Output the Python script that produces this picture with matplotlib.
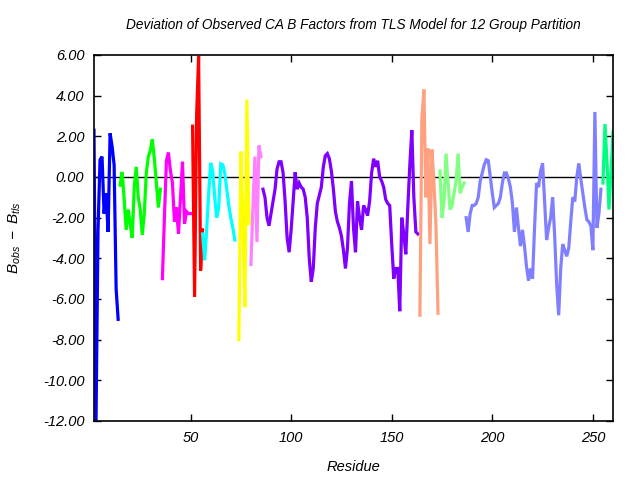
import matplotlib
matplotlib.use("Agg")
import matplotlib.pyplot as plt
import numpy as np

# ---- data: (start residue, values, colour) per TLS group ----
blue_start = 2
blue_vals = [2.3, -12.0, -2.6, 0.85, 1.0, -1.8, -0.8, -2.7, 2.15, 1.5, 0.6, -5.5, -7.0]

green_start = 15
green_vals = [-0.4, 0.25, -1.1, -2.6, -1.6, -2.3, -3.0, -0.5, 0.5, -1.0, -1.6, -2.85,
              -1.8, 0.2, 1.0, 1.3, 1.85, 0.9, -0.3, -1.5, -0.6]

magenta_start = 36
magenta_vals = [-5.0, -2.0, 0.8, 1.2, 0.3, -0.3, -2.2, -1.5, -2.8, -1.0, 0.75, -2.3,
                -1.7, -1.8, -1.8]

red_start = 51
red_vals = [2.5, -5.9, 3.0, 5.95, -4.6, -2.6]

cyan_start = 56
cyan_vals = [-2.8, -4.1, -2.6, -0.8, 0.7, 0.3, -1.0, -2.0, -1.5, 0.65, 0.6, 0.2, -0.6,
             -1.4, -2.0, -2.5, -3.1]

yellow_start = 74
yellow_vals = [-8.0, 1.25, -2.0, -6.4, 3.8, -2.3]

pink_start = 80
pink_vals = [-4.3, -1.5, 1.0, -3.2, 1.55, 1.0]

purple_start = 86
purple_vals = [-0.6, -1.0, -2.0, -2.4, -1.8, -1.2, -0.6, 0.4, 0.75, 0.75, 0.2, -1.2,
               -3.0, -3.7, -2.6, -1.2, 0.23, -0.6, -0.3, -0.5, -0.6, -1.0, -2.0, -4.0,
               -5.15, -4.5, -2.5, -1.3, -0.9, -0.5, 0.5, 1.05, 1.15, 0.9, 0.3, -0.6,
               -1.7, -2.2, -2.5, -2.9, -3.6, -4.5, -3.5, -1.3, -0.2, -2.5, -3.7, -1.2,
               -2.0, -2.6, -1.4, -1.6, -1.9, -1.2, 0.2, 0.9, 0.5, 0.8, 0.0, -0.2,
               -0.5, -1.1, -1.3, -1.4, -3.3, -5.0, -4.5, -4.5, -6.6, -2.0, -2.8, -3.8,
               -1.5, 0.6, 2.3, -1.0, -2.7, -2.8]

salmon_start = 164
salmon_vals = [-6.8, 2.9, 4.3, -1.0, 1.4, -3.3, 1.35, -0.3, -2.4, -6.7]

lgreen_start = 174
lgreen_vals = [0.3, -2.0, -1.2, 1.15, -0.3, -1.6, -1.4, -0.8, -0.2, 1.15, -0.8, -0.5, -0.3]

lblue_start = 187
lblue_vals = [-2.0, -2.7, -1.8, -1.4, -1.4, -1.3, -1.0, -0.2, 0.2, 0.6, 0.85, 0.8,
              0.0, -0.8, -1.5, -1.4, -1.3, -1.0, -0.3, 0.2, 0.2, -0.1, -0.5, -1.3,
              -2.7, -1.5, -2.5, -3.4, -2.6, -3.4, -4.4, -5.1, -4.5, -5.0, -2.5, -0.3,
              -0.5, 0.3, 0.67, -1.2, -3.1, -2.5, -2.0, -1.0, -2.9, -5.3, -6.8, -4.5,
              -3.3, -3.6, -3.9, -3.5, -2.2, -1.0, -1.2, 0.0, 0.67, -0.1, -0.8, -1.5,
              -2.1, -2.2, -2.4, -3.6, 3.2, -2.5, -1.8, -0.6]

sgreen_start = 255
sgreen_vals = [-0.3, 2.6, 0.8, -1.6, 0.2, 2.2]

groups = [
    (blue_start, blue_vals, "#0000ff"),
    (green_start, green_vals, "#00ff00"),
    (magenta_start, magenta_vals, "#ff00ff"),
    (red_start, red_vals, "#ff0000"),
    (cyan_start, cyan_vals, "#00ffff"),
    (yellow_start, yellow_vals, "#ffff00"),
    (pink_start, pink_vals, "#ff80ff"),
    (purple_start, purple_vals, "#8000ff"),
    (salmon_start, salmon_vals, "#ffa080"),
    (lgreen_start, lgreen_vals, "#80ff80"),
    (lblue_start, lblue_vals, "#8080ff"),
    (sgreen_start, sgreen_vals, "#00ff80"),
]

yticks = [-12, -10, -8, -6, -4, -2, 0, 2, 4, 6]
xticks = [50, 100, 150, 200, 250]

plt.rcParams['font.family'] = ['Liberation Sans', 'DejaVu Sans']
plt.rcParams['mathtext.fontset'] = 'custom'
plt.rcParams['mathtext.it'] = 'Liberation Sans:italic'
plt.rcParams['mathtext.rm'] = 'Liberation Sans:italic'

fig = plt.figure(figsize=(6.4, 4.8), dpi=100)
ax = fig.add_axes([94/640, 1 - 421/480, (613 - 94)/640, (421 - 55)/480])

ax.axhline(0, color='black', lw=1.0, zorder=1)
for start, vals, col in groups:
    x = np.arange(start, start + len(vals))
    ax.plot(x, vals, color=col, lw=2.3, solid_joinstyle='miter', zorder=2)

ax.set_xlim(2, 260)
ax.set_ylim(-12, 6)
ax.set_xticks(xticks)
ax.set_yticks(yticks)
ax.set_yticklabels([f"{v:.2f}" for v in yticks])
ax.tick_params(direction='in', length=5, width=1, top=True, right=True,
               labelsize=10.5, pad=7)
for lab in ax.get_xticklabels() + ax.get_yticklabels():
    lab.set_fontstyle('italic')
for s in ax.spines.values():
    s.set_linewidth(1.2)

ax.set_xlabel('Residue', fontsize=10.5, style='italic', labelpad=11)
ax.set_ylabel(r'$B_{obs}\ -\ B_{tls}$', fontsize=11, labelpad=14)
ax.set_title('Deviation of Observed CA B Factors from TLS Model for 12 Group Partition',
             fontsize=9.8, style='italic', pad=19)

fig.savefig('out.png', dpi=100)
